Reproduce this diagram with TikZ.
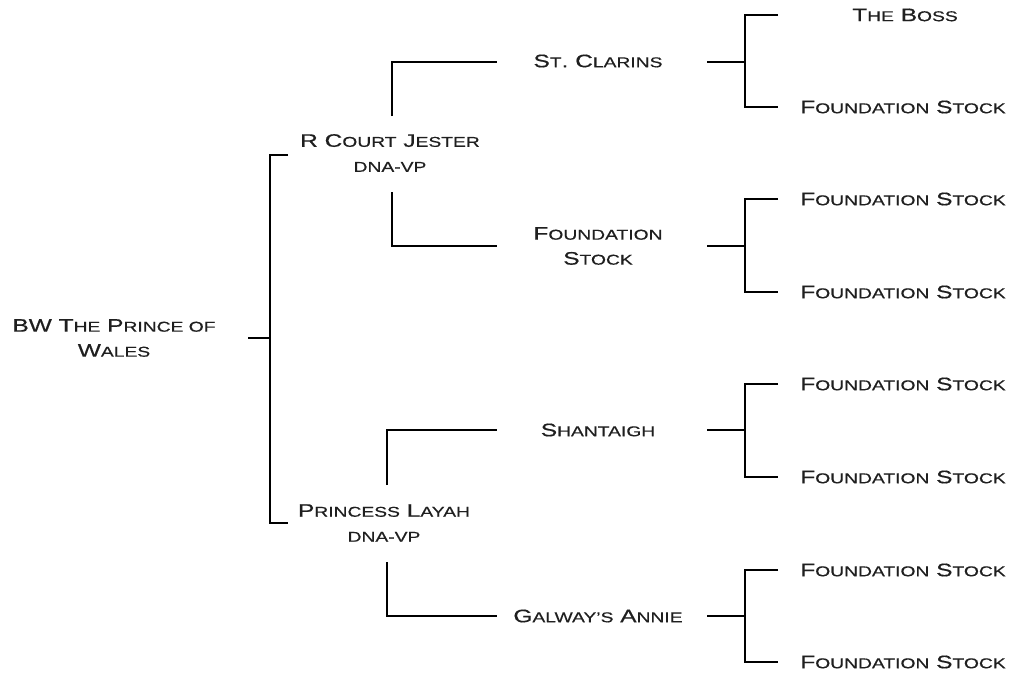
\documentclass[tikz,border=0pt]{standalone}
\usepackage{fontspec}
\setmainfont{Liberation Sans}[FakeStretch=1.35,FakeBold=0.5]
\newcommand{\sm}[1]{{\fontsize{10.7}{12}\selectfont\MakeUppercase{#1}}}
\begin{document}
\begin{tikzpicture}[x=0.75pt,y=-0.75pt,
  line width=0.9pt,
  lbl/.style={font=\fontsize{13.6}{18.75}\selectfont, align=center, text=black!88, inner sep=0pt}]
\useasboundingbox (0,0) rectangle (1010,674);
% labels
\node[lbl] (root) at (114,338) {BW T\sm{he} P\sm{rince of}\\W\sm{ales}};
\node[lbl] (cj) at (390,153) {R C\sm{ourt} J\sm{ester}\\\sm{dna-vp}};
\node[lbl] (pl) at (384,523) {P\sm{rincess} L\sm{ayah}\\\sm{dna-vp}};
\node[lbl] (sc) at (598,61) {S\sm{t}. C\sm{larins}};
\node[lbl] (fs1) at (598,246) {F\sm{oundation}\\S\sm{tock}};
\node[lbl] (sh) at (598,430) {S\sm{hantaigh}};
\node[lbl] (ga) at (598,616) {G\sm{alway's} A\sm{nnie}};
\node[lbl] (l1) at (905,15) {T\sm{he} B\sm{oss}};
\node[lbl] (l2) at (903,107) {F\sm{oundation} S\sm{tock}};
\node[lbl] (l3) at (903,199) {F\sm{oundation} S\sm{tock}};
\node[lbl] (l4) at (903,292) {F\sm{oundation} S\sm{tock}};
\node[lbl] (l5) at (903,384) {F\sm{oundation} S\sm{tock}};
\node[lbl] (l6) at (903,477) {F\sm{oundation} S\sm{tock}};
\node[lbl] (l7) at (903,570) {F\sm{oundation} S\sm{tock}};
\node[lbl] (l8) at (903,662) {F\sm{oundation} S\sm{tock}};
% root bracket
\coordinate (r0) at (248,338);
\coordinate (r1) at (270,338);
\coordinate (rt) at (288,155);
\coordinate (rb) at (288,523);
\draw (r0) -- (r1);
\draw (rt) -- (270,155) -- (270,523) -- (rb);
% R Court Jester
\coordinate (cjt) at (392,116);
\coordinate (cjb) at (392,192);
\coordinate (sce) at (497,62);
\coordinate (fse) at (497,246);
\draw (cjt) |- (sce);
\draw (cjb) |- (fse);
% Princess Layah
\coordinate (plt) at (387,485);
\coordinate (plb) at (387,562);
\coordinate (she) at (497,430);
\coordinate (gae) at (497,616);
\draw (plt) |- (she);
\draw (plb) |- (gae);
% generation 3 brackets
\foreach \y/\a/\b in {62/15/107, 246/199/292, 430/384/477, 616/570/662}{
  \draw (707,\y) -- (745,\y);
  \draw (778,\a) -- (745,\a) -- (745,\b) -- (778,\b);
}
\end{tikzpicture}
\end{document}
